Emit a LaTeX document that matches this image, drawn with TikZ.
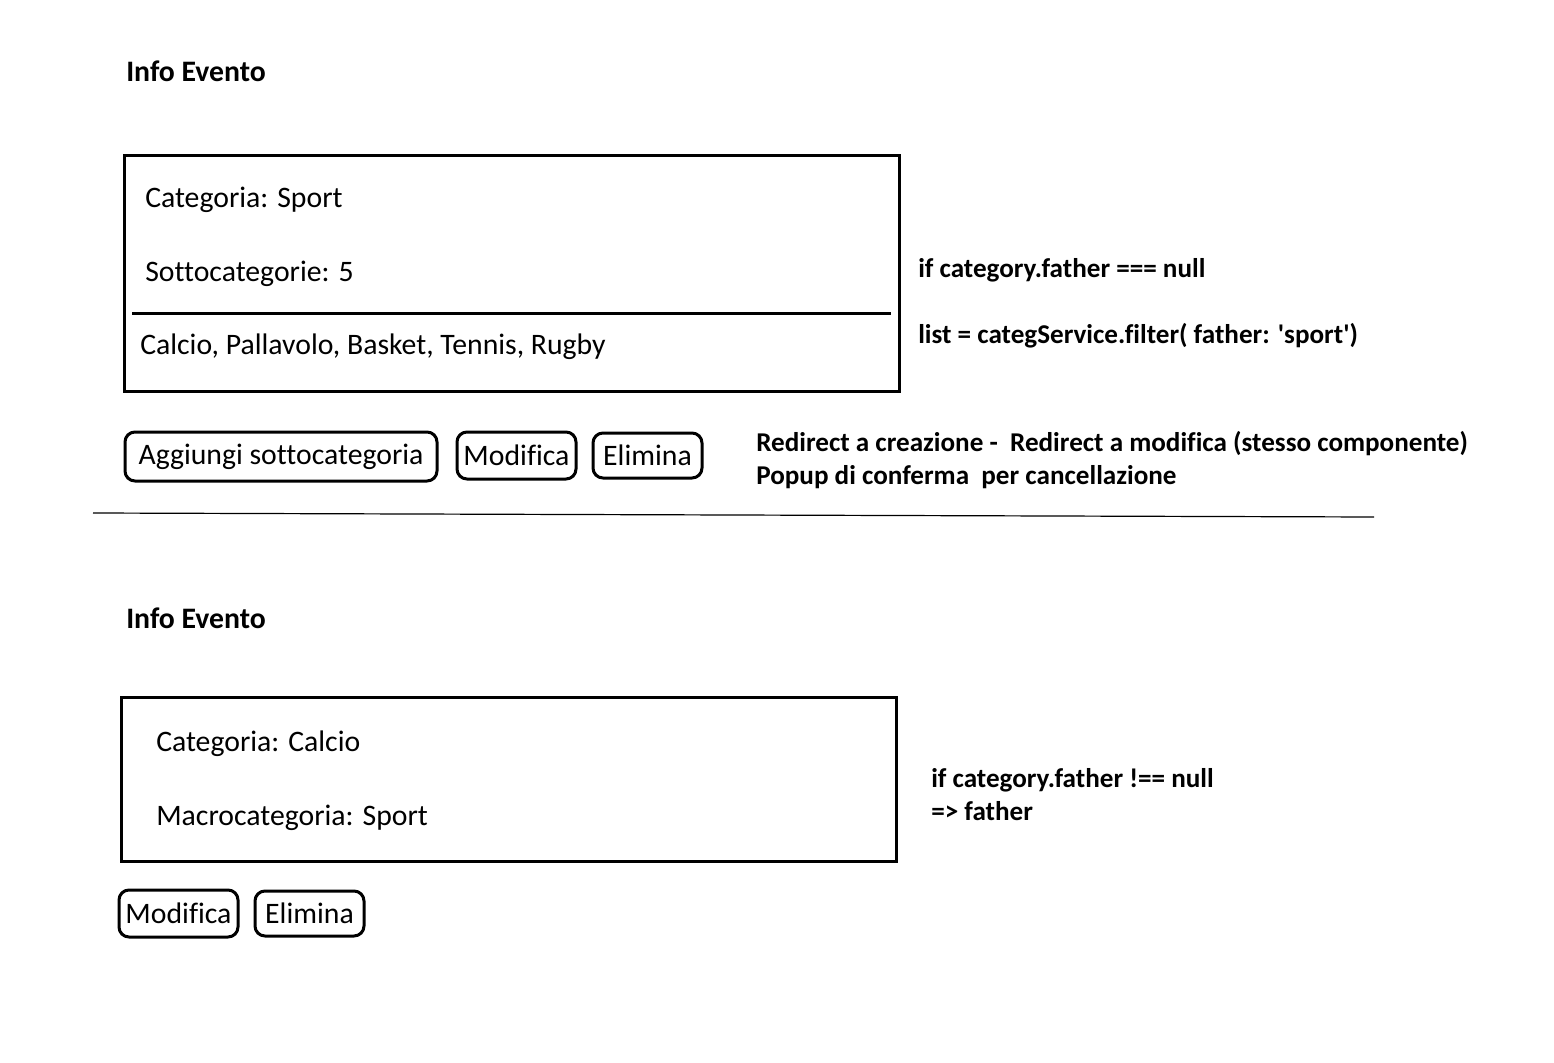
\documentclass[tikz,border=0pt]{standalone}
\usepackage{fontspec}
\setmainfont{Carlito}[Ligatures={TeXOff,CommonOff,ContextualOff},RawFeature={-liga;-clig;-dlig}]
\begin{document}
\begin{tikzpicture}[x=0.75pt,y=-0.75pt,
 lbl/.style={anchor=base west, inner sep=0pt, font=\fontsize{22.3}{26}\selectfont},
 ann/.style={anchor=base west, inner sep=0pt, font=\fontsize{20.35}{24}\selectfont\bfseries},
 ttl/.style={anchor=base west, inner sep=0pt, font=\fontsize{22.3}{26}\selectfont\bfseries},
 btn/.style={draw, line width=2.25pt, rounded corners=7.5pt, inner sep=0pt, font=\fontsize{22.3}{26}\selectfont},
 frame/.style={draw, line width=2.25pt},
 sep/.style={draw, line width=0.9pt}]
\useasboundingbox[fill=white] (0,0) rectangle (1554,1063);

% ---- first panel
\node[ttl] (t1) at (126,82) {Info Evento};
\draw[frame] (124,155) rectangle (899,391);
\coordinate (l1a) at (132,313);
\coordinate (l1b) at (891,313);
\draw[frame] (l1a) -- (l1b);
\node[lbl] (c1) at (145,207) {Categoria: Sport};
\node[lbl] (s1) at (145,281) {Sottocategorie: 5};
\node[lbl] (list1) at (140,354) {Calcio, Pallavolo, Basket, Tennis, Rugby};

\node[btn, minimum width=234pt, minimum height=36.75pt] (add) at (281,456.5) {Aggiungi sottocategoria};
\node[btn, minimum width=89.25pt, minimum height=35.25pt] (mod1) at (516.5,455.5) {Modifica};
\node[btn, minimum width=81.75pt, minimum height=33.75pt] (del1) at (647.5,455.5) {Elimina};

\node[ann] (a1) at (918,277) {if category.father === null};
\node[ann] (a2) at (918,343) {list = categService.filter( father: 'sport')};
\node[ann] (a3) at (756,451) {Redirect a creazione -\ \ Redirect a modifica (stesso componente)};
\node[ann] (a4) at (756,484) {Popup di conferma\ \ per cancellazione};

% ---- separator
\coordinate (sa) at (93,513);
\coordinate (sb) at (1374,517);
\draw[sep] (sa) -- (sb);

% ---- second panel
\node[ttl] (t2) at (126,628) {Info Evento};
\draw[frame] (121,697) rectangle (896,861);
\node[lbl] (c2) at (156,751) {Categoria: Calcio};
\node[lbl] (m2) at (156,825) {Macrocategoria: Sport};

\node[btn, minimum width=89.25pt, minimum height=35.25pt] (mod2) at (178.5,913.5) {Modifica};
\node[btn, minimum width=81.75pt, minimum height=33.75pt] (del2) at (309.5,913.5) {Elimina};

\node[ann] (a5) at (931,787) {if category.father !== null};
\node[ann] (a6) at (931,820) {=> father};
\end{tikzpicture}
\end{document}
